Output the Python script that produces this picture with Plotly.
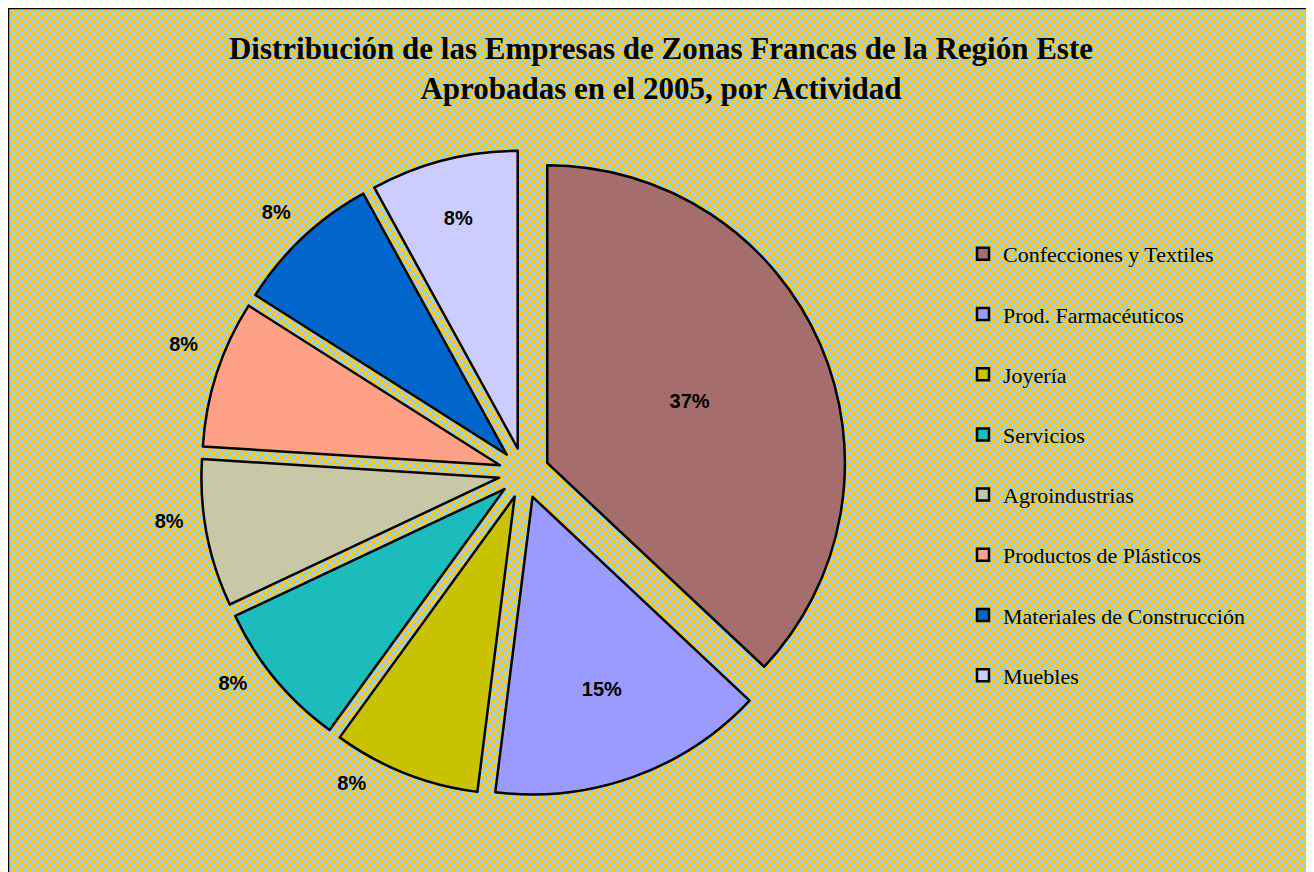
import plotly.graph_objects as go
import urllib.parse

categories = ["Confecciones y Textiles", "Prod. Farmacéuticos", "Joyería", "Servicios",
              "Agroindustrias", "Productos de Plásticos", "Materiales de Construcción", "Muebles"]
values = [37, 15, 8, 8, 8, 8, 8, 8]
colors = ["#a66d6d", "#9a9aff", "#c9c200", "#1cbcbc", "#c8c7a6", "#ffa186", "#0066cc", "#ccccff"]
text_positions = ["inside", "inside", "outside", "outside", "outside", "outside", "outside", "inside"]

title_lines = ["Distribución de las Empresas de Zonas Francas de la Región Este",
               "Aprobadas en el 2005, por Actividad"]

W, H = 1306, 864

# label templates (extra blank space nudges the outside labels away from the slices)
NB = "&nbsp;"
PCT = "<b>%{percent:.0%}</b>"
text_templates = [
    PCT,
    PCT,
    PCT + NB * 6,
    PCT + NB * 4,
    PCT + NB * 2 + "<br>" + NB,
    PCT + "<br>" + NB + "<br>" + NB,
    PCT + "<br>" + NB,
    PCT,
]

# patterned background (blue with yellow dots)
Y = "#ffcc00"
px = [(3, 2), (2, 3), (7, 6), (6, 7), (7, 2), (3, 6), (2, 7), (6, 3)]
svg = (
    "<svg xmlns='http://www.w3.org/2000/svg' width='1306' height='864'>"
    "<defs><pattern id='p' width='8' height='8' patternUnits='userSpaceOnUse'>"
    "<rect width='8' height='8' fill='#99ccff'/>"
    f"<rect x='0' y='0' width='3' height='3' fill='{Y}'/>"
    f"<rect x='4' y='4' width='3' height='3' fill='{Y}'/>"
    + "".join(f"<rect x='{a}' y='{b}' width='1' height='1' fill='{Y}'/>" for a, b in px)
    + "</pattern></defs>"
    "<rect width='100%' height='100%' fill='url(#p)'/></svg>"
)
bg_src = "data:image/svg+xml;charset=utf-8," + urllib.parse.quote(svg)

legend_labels = [c + "<br>&nbsp;" for c in categories]

fig = go.Figure(go.Pie(
    labels=legend_labels,
    values=values,
    sort=False,
    direction="clockwise",
    rotation=0,
    pull=[0.085] * len(values),
    marker=dict(colors=colors, line=dict(color="black", width=2.5)),
    texttemplate=text_templates,
    textposition=text_positions,
    insidetextorientation="horizontal",
    textfont=dict(family="Liberation Sans", size=20, color="black"),
    outsidetextfont=dict(family="Liberation Sans", size=20, color="black"),
    insidetextfont=dict(family="Liberation Sans", size=20, color="black"),
    domain=dict(x=[193 / W, 839 / W], y=[1 - 788 / H, 1 - 142 / H]),
    hoverinfo="label+percent",
))

fig.update_layout(
    width=W, height=H,
    margin=dict(l=0, r=0, t=0, b=0),
    paper_bgcolor="white",
    title=dict(
        text="<b>" + "<br>".join(title_lines) + "</b>",
        x=0.5, xanchor="center", y=1 - 51 / H, yanchor="top",
        font=dict(family="Liberation Serif", size=31, color="black"),
    ),
    legend=dict(
        x=955 / W, xanchor="left", y=1 - 225 / H, yanchor="top",
        font=dict(family="Liberation Serif", size=22, color="black"),
        bgcolor="rgba(0,0,0,0)",
        valign="top",
        itemwidth=30,
    ),
    images=[dict(
        source=bg_src, xref="paper", yref="paper",
        x=0, y=1, sizex=1, sizey=1,
        xanchor="left", yanchor="top", sizing="stretch", layer="below",
    )],
    shapes=[dict(
        type="rect", xref="paper", yref="paper",
        x0=0.5 / W, x1=1.01, y0=-0.01, y1=1 - 0.5 / H,
        line=dict(color="black", width=1.5),
    )],
)

fig.write_html("out.html")
